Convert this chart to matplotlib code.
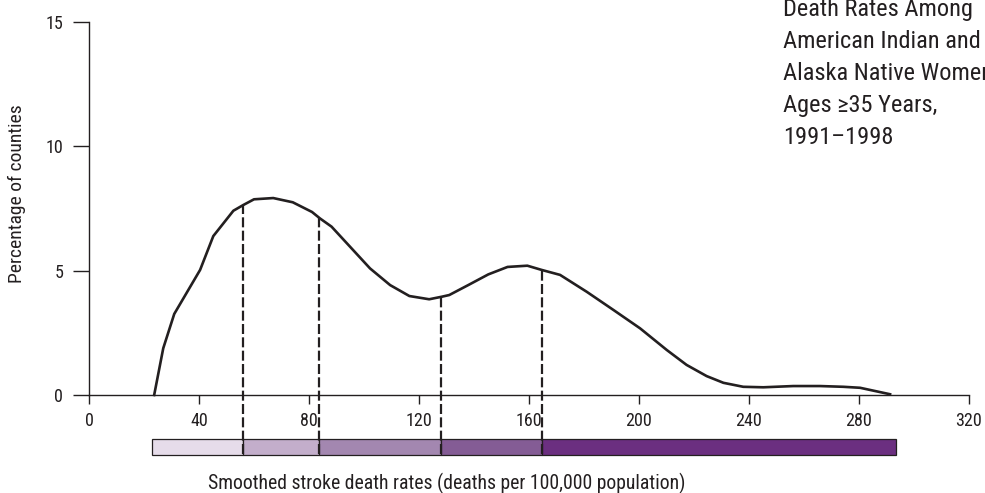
import numpy as np
import matplotlib
matplotlib.use("Agg")
import matplotlib.pyplot as plt
from matplotlib.patches import Rectangle

plt.rcParams['font.family'] = ['Roboto Condensed', 'Liberation Sans Narrow', 'DejaVu Sans']

# ---------------------------
# Data
# ---------------------------
rate = [23.7, 27.0, 31.0, 40.4, 45.2, 52.5, 56.1, 60.0, 67.0, 74.1, 81.1, 84.0,
        88.2, 102.2, 109.5, 116.5, 123.7, 128.2, 131.0, 137.9, 145.2, 152.2,
        159.4, 164.6, 171.3, 181.0, 190.7, 200.4, 210.1, 217.3, 224.6, 230.7,
        237.9, 245.2, 256.1, 265.8, 274.3, 280.4, 291.3]
pct = [0.0, 1.88, 3.26, 5.03, 6.39, 7.41, 7.64, 7.87, 7.92, 7.75, 7.36, 7.1,
       6.77, 5.09, 4.42, 3.98, 3.85, 3.95, 4.02, 4.42, 4.85, 5.15,
       5.2, 5.03, 4.83, 4.15, 3.42, 2.68, 1.81, 1.21, 0.76, 0.49,
       0.33, 0.31, 0.36, 0.36, 0.33, 0.29, 0.03]

# class breaks of the colour bar (first and last are the bar ends)
breaks = [23.0, 56.0, 83.8, 128.0, 164.6, 293.3]
bar_colors = ['#e6dcea', '#c3aecb', '#a387b0', '#845c95', '#6b2f80']

x_ticks = [0, 40, 80, 120, 160, 200, 240, 280, 320]
y_ticks = [0, 5, 10, 15]

title_lines = ["Death Rates Among", "American Indian and",
               "Alaska Native Women", "Ages \u226535 Years,", "1991\u20131998"]

ink = '#231f20'

fig = plt.figure(figsize=(9.85, 4.93), dpi=100)
ax = fig.add_axes([89 / 985, 1 - 395 / 493, 880 / 985, 373 / 493])
ax.set_xlim(0, 320)
ax.set_ylim(0, 15)

# Curve
ax.plot(rate, pct, color=ink, lw=1.9, solid_joinstyle='round', clip_on=False)

# Colour bar below the axis (data coords, outside the axes)
bar_lo, bar_hi = -2.41, -1.78
for i, c in enumerate(bar_colors):
    ax.add_patch(Rectangle((breaks[i], bar_lo), breaks[i + 1] - breaks[i],
                           bar_hi - bar_lo, facecolor=c, edgecolor=ink,
                           lw=0.9, clip_on=False, zorder=2))

# Dashed drop lines from curve to bar bottom
for b in breaks[1:-1]:
    top = np.interp(b, rate, pct)
    ax.plot([b, b], [bar_lo + 0.03, top], color=ink, lw=1.6,
            linestyle=(0, (4.5, 1.5)), clip_on=False, zorder=3)

# Axes styling
for s in ['top', 'right']:
    ax.spines[s].set_visible(False)
for s in ['left', 'bottom']:
    ax.spines[s].set_color(ink)
    ax.spines[s].set_linewidth(1.0)
ax.set_xticks(x_ticks)
ax.set_yticks(y_ticks)
ax.tick_params(axis='y', length=11.5, width=1.0, color=ink, pad=7,
               labelsize=13, labelcolor=ink)
ax.tick_params(axis='x', length=6.5, width=1.0, color=ink, pad=6,
               labelsize=13, labelcolor=ink)

ax.set_ylabel("Percentage of counties", fontsize=14, color=ink)
ax.yaxis.set_label_coords(-0.072, 0.54)

fig.text(447 / 985, 1 - 483 / 493, "Smoothed stroke death rates (deaths per 100,000 population)",
         ha='center', va='center', fontsize=14.2, color=ink)

# Title block at top right (runs off the edge as in the reference)
for i, line in enumerate(title_lines):
    fig.text(783 / 985, 1 - (16 + 32 * i) / 493, line, ha='left',
             va='baseline', fontsize=17.6, color=ink)

fig.savefig("out.png", dpi=100)
